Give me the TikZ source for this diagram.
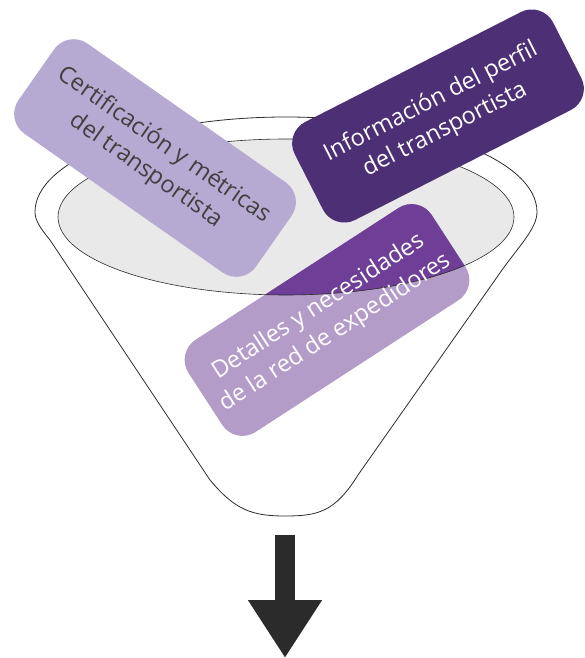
\documentclass[tikz,border=0pt]{standalone}
\usepackage{fontspec}
\setmainfont{Open Sans}
\usetikzlibrary{arrows.meta}
\definecolor{lila}{HTML}{B6AAD2}
\definecolor{uva}{HTML}{4D2F75}
\definecolor{violeta}{HTML}{6F3E96}
\definecolor{malva}{HTML}{B49CC9}
\definecolor{gris}{HTML}{E9E9E9}
\definecolor{tinta}{HTML}{2B2B2B}

\begin{document}
\begin{tikzpicture}[x=1pt,y=-1pt,
  borde/.style={draw=tinta, line width=0.8pt},
  tarjeta/.style={rectangle, rounded corners=24pt, minimum width=290pt, minimum height=110pt,
    inner sep=0pt, outer sep=0pt, align=center, font=\fontsize{23.5}{31}\selectfont}]
\useasboundingbox (0,0) rectangle (585,658);
\coordinate (boca) at (286,217);
\draw[borde, fill=white] (35,212) arc[start angle=180, end angle=360, x radius=251, y radius=95]
  .. controls (537,228) and (520,245) .. (502,270) -- (358,475)
  .. controls (335,512) and (318,516) .. (285,516)
  .. controls (252,516) and (235,510) .. (210,480) -- (50,240)
  .. controls (40,228) and (35,220) .. cycle;
\fill[gris] (boca) ellipse [x radius=228, y radius=78];
\draw[borde, line width=0.6pt] (boca) ellipse [x radius=228, y radius=78];
\node[tarjeta, fill=lila, text=tinta!90, rotate=-35] (certif) at (155,158) {Certificación y métricas\\del transportista};
\node[tarjeta, fill=uva, text=white, rotate=27] (perfil) at (438,116) {Información del perfil\\del transportista};
\node[tarjeta, fill=malva, rotate=33] (red) at (327,320) {};
\begin{scope}
  \clip[rounded corners=24pt] (red.north west) -- (red.north east) -- (red.south east) -- (red.south west) -- cycle;
  \fill[violeta] (boca) ellipse [x radius=228, y radius=78];
  \draw[borde, line width=0.6pt] (boca) ellipse [x radius=228, y radius=78];
\end{scope}
\node[tarjeta, text=white, rotate=33] (redtexto) at (red) {Detalles y necesidades\\de la red de expedidores};
\coordinate (salida) at (285,535);
\coordinate (fin) at (285,658);
\draw[tinta, line width=20pt, -{Triangle[length=58pt, width=70pt]}] (salida) -- (fin);
\end{tikzpicture}
\end{document}
